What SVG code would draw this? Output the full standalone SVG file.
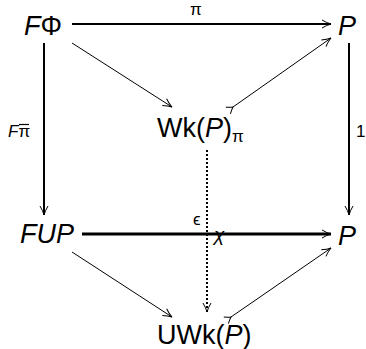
<svg xmlns="http://www.w3.org/2000/svg" width="366" height="349" viewBox="0 0 366 349">
<style>
text{font-family:"Liberation Sans",Arial,sans-serif;fill:#000}
.n{font-size:27px}
.i{font-style:italic}
.l{font-size:17px}
.e{fill:none;stroke:#000}
</style>
<defs>
<marker id="ah" markerUnits="userSpaceOnUse" viewBox="0 0 12 12" refX="10" refY="6" markerWidth="12" markerHeight="12" orient="auto">
<path d="M1,2 Q6,5 10,6 Q6,7 1,10" fill="none" stroke="#000" stroke-width="1"/>
</marker>
<marker id="tl" markerUnits="userSpaceOnUse" viewBox="0 0 12 12" refX="7" refY="6" markerWidth="12" markerHeight="12" orient="auto">
<path d="M1,2 Q5,5 7,6 Q5,7 1,10" fill="none" stroke="#000" stroke-width="1"/>
</marker>
</defs>
<rect width="366" height="349" fill="#fff"/>
<g id="connectors">
<line class="e" x1="72" y1="24" x2="331" y2="24" stroke-width="2" marker-end="url(#ah)"/>
<line class="e" x1="44" y1="43" x2="44" y2="215" stroke-width="2" marker-end="url(#ah)"/>
<line class="e" x1="349" y1="43" x2="349" y2="215" stroke-width="2" marker-end="url(#ah)"/>
<line class="e" x1="82" y1="234" x2="331" y2="234" stroke-width="3" marker-end="url(#ah)"/>
<line class="e" x1="72" y1="43" x2="172" y2="107" stroke-width="1" marker-end="url(#ah)"/>
<line class="e" x1="233" y1="107" x2="331" y2="38" stroke-width="1" marker-start="url(#tl)" marker-end="url(#ah)"/>
<line class="e" x1="72" y1="252" x2="172" y2="317" stroke-width="1" marker-end="url(#ah)"/>
<line class="e" x1="231" y1="317" x2="331" y2="248" stroke-width="1" marker-start="url(#tl)" marker-end="url(#ah)"/>
<line class="e" x1="207" y1="150" x2="207" y2="312" stroke-width="2" stroke-dasharray="2,2" marker-end="url(#ah)"/>
<text class="l" x="190" y="15">π</text>
<text class="l" x="8" y="137"><tspan class="i">F</tspan>π</text>
<line class="e" x1="19" y1="124.5" x2="29" y2="124.5" stroke-width="1.2"/>
<text class="l" x="356" y="137">1</text>
<text class="l" x="193" y="225">ϵ</text>
<text x="214" y="241" style="font-size:19px" class="i">χ</text>
</g>
<g id="FPhi"><text class="n" x="24" y="35"><tspan class="i">F</tspan>Φ</text></g>
<g id="P1"><text class="n i" x="338" y="35">P</text></g>
<g id="WkP"><text class="n" x="157" y="137">Wk(<tspan class="i">P</tspan>)<tspan class="l" dy="5">π</tspan></text></g>
<g id="FUP"><text class="n i" x="20" y="243">FUP</text></g>
<g id="P2"><text class="n i" x="338" y="245">P</text></g>
<g id="UWkP"><text class="n" x="157" y="344">UWk(<tspan class="i">P</tspan>)</text></g>
</svg>
